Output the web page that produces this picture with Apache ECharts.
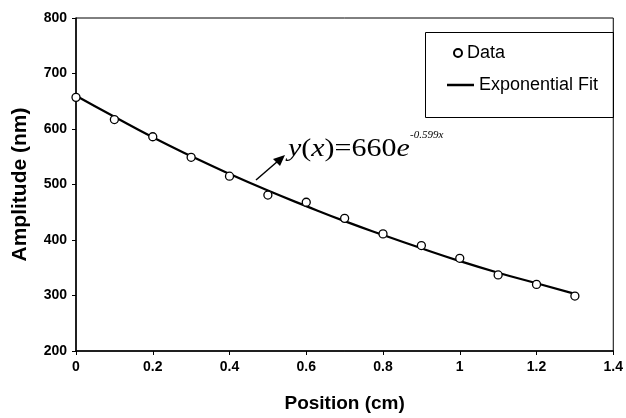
<!DOCTYPE html>
<html>
<head>
<meta charset="utf-8">
<script src="https://cdn.jsdelivr.net/npm/echarts@6/dist/echarts.min.js"></script>
<style>html,body{margin:0;padding:0;background:#fff;}#c{width:626px;height:418px;}</style>
</head>
<body>
<div id="c"></div>
<script>
var positions = [0, 0.1, 0.2, 0.3, 0.4, 0.5, 0.6, 0.7, 0.8, 0.9, 1.0, 1.1, 1.2, 1.3];
var amplitudeData = [657, 617, 586, 549, 515, 481, 468, 439, 411, 390, 367, 337, 320, 299];
var amplitudeFit = [660, 622, 585, 551, 519, 489, 461, 434, 409, 385, 362, 341, 322, 303];
var xTicks = [0, 0.2, 0.4, 0.6, 0.8, 1, 1.2, 1.4];
var yTicks = [200, 300, 400, 500, 600, 700, 800];
var legendNames = ['Data', 'Exponential Fit'];

var chart = echarts.init(document.getElementById('c'), null, {renderer: 'canvas'});
var sans = 'Liberation Sans, Arial, sans-serif';
var serif = '"Liberation Serif", "Times New Roman", serif';
var tickFont = {fontFamily: sans, fontWeight: 'bold', fontSize: 14, color: '#000'};
var option = {
  backgroundColor: '#fff',
  animation: false,
  grid: {left: 76, right: 11, top: 18, bottom: 65, show: true, borderColor: '#000', borderWidth: 1, backgroundColor: 'transparent'},
  xAxis: {
    type: 'value', min: xTicks[0], max: xTicks[xTicks.length - 1], interval: 0.2,
    name: 'Position (cm)', nameLocation: 'middle', nameGap: 43,
    nameTextStyle: {fontFamily: sans, fontWeight: 'bold', fontSize: 19, color: '#000'},
    axisLine: {show: true, lineStyle: {color: '#000', width: 1.5}},
    axisTick: {show: true, length: 4, lineStyle: {color: '#000'}},
    axisLabel: Object.assign({margin: 9}, tickFont),
    splitLine: {show: false}
  },
  yAxis: {
    type: 'value', min: yTicks[0], max: yTicks[yTicks.length - 1], interval: 100,
    name: 'Amplitude (nm)', nameLocation: 'middle', nameGap: 45, nameRotate: 90,
    nameTextStyle: {fontFamily: sans, fontWeight: 'bold', fontSize: 21, color: '#000'},
    axisLine: {show: true, lineStyle: {color: '#000', width: 1.5}},
    axisTick: {show: true, length: 4, lineStyle: {color: '#000'}},
    axisLabel: Object.assign({margin: 9}, tickFont),
    splitLine: {show: false}
  },
  legend: [
    {data: [legendNames[0]], left: 448, top: 39, orient: 'vertical', itemWidth: 8, itemHeight: 8,
     textStyle: {fontFamily: sans, fontSize: 18, color: '#000'}},
    {data: [{name: legendNames[1], icon: 'rect'}], left: 442, top: 71, orient: 'vertical', itemWidth: 27, itemHeight: 2.5,
     textStyle: {fontFamily: sans, fontSize: 18, color: '#000'}}
  ],
  series: [
    {
      name: legendNames[1], type: 'line', smooth: true, showSymbol: false, symbol: 'none',
      data: positions.map(function (x, i) { return [x, amplitudeFit[i]]; }),
      lineStyle: {color: '#000', width: 2.2}, itemStyle: {color: '#000'}, z: 2
    },
    {
      name: legendNames[0], type: 'scatter', symbol: 'circle', symbolSize: 8,
      data: positions.map(function (x, i) { return [x, amplitudeData[i]]; }),
      itemStyle: {color: '#fff', borderColor: '#000', borderWidth: 1.3, opacity: 1}, z: 3
    }
  ],
  graphic: [
    {type: 'rect', left: 423, top: 30, shape: {width: 188, height: 85}, style: {fill: 'none', stroke: '#000', lineWidth: 1}, z: 1},
    {type: 'text', x: 288, y: 162, scaleX: 1.2, style: {
      text: '{i|y}{n|(}{i|x}{n|)=660}{i|e}',
      verticalAlign: 'bottom',
      rich: {
        i: {fontFamily: serif, fontStyle: 'italic', fontSize: 25, fill: '#000'},
        n: {fontFamily: serif, fontSize: 25, fill: '#000'}
      }
    }},
    {type: 'text', x: 410, y: 141, style: {text: '-0.599x', font: 'italic 11px ' + serif, fill: '#000', verticalAlign: 'bottom'}},
    {type: 'line', shape: {x1: 256, y1: 180, x2: 278, y2: 161}, style: {stroke: '#000', lineWidth: 1.5}},
    {type: 'polygon', shape: {points: [[285, 155], [273, 159], [280, 166]]}, style: {fill: '#000'}}
  ]
};
chart.setOption(option);
</script>
</body>
</html>
